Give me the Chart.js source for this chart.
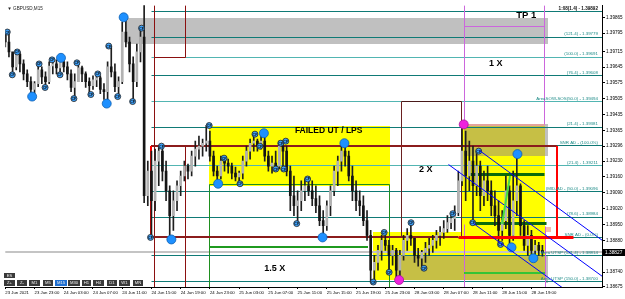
<!DOCTYPE html>
<html>
<head>
<meta charset="utf-8">
<title>GBPUSD,M15</title>
<script src="https://cdn.jsdelivr.net/npm/chart.js@4.4.1/dist/chart.umd.min.js"></script>
<style>
  html, body { margin: 0; padding: 0; background: #fff; }
</style>
</head>
<body>
<canvas id="myChart" width="625" height="299"></canvas>
<script>
// time axis (bar index of each label, 30 min bars)
const timeTicks = [0, 8, 16, 24, 32, 40, 48, 56, 64, 72, 80, 88, 96, 104, 112, 120, 128, 136, 144];
const timeLabels = ["23 Jun 2021", "23 Jun 23:00", "24 Jun 03:00", "24 Jun 07:00", "24 Jun 11:00", "24 Jun 15:00",
  "24 Jun 19:00", "24 Jun 23:00", "25 Jun 03:00", "25 Jun 07:00", "25 Jun 11:00", "25 Jun 15:00", "25 Jun 19:00",
  "25 Jun 23:00", "28 Jun 03:00", "28 Jun 07:00", "28 Jun 11:00", "28 Jun 15:00", "28 Jun 19:00"];

const priceTicks = [1.39865, 1.39795, 1.39715, 1.39645, 1.39575, 1.39505, 1.39435, 1.39365, 1.39296,
  1.39230, 1.39160, 1.39090, 1.39020, 1.38950, 1.38880, 1.38740, 1.38675];

const firstOpen = 1.39790;
const highs = [
  1.39808, 1.39800, 1.39703, 1.39721, 1.39712, 1.39677, 1.39633, 1.39602, 1.39581, 1.39659,
  1.39646, 1.39624, 1.39668, 1.39677, 1.39677, 1.39690, 1.39686, 1.39668, 1.39633, 1.39615,
  1.39664, 1.39650, 1.39624, 1.39598, 1.39606, 1.39620, 1.39606, 1.39572, 1.39668, 1.39738,
  1.39659, 1.39602, 1.39843, 1.39865, 1.39778, 1.39690, 1.39747, 1.39817, 1.39918, 1.39230,
  1.39274, 1.39283, 1.39296, 1.39292, 1.39230, 1.39121, 1.39099, 1.39143, 1.39186, 1.39230,
  1.39217, 1.39274, 1.39318, 1.39340, 1.39327, 1.39387, 1.39362, 1.39274, 1.39208, 1.39252,
  1.39243, 1.39239, 1.39221, 1.39204, 1.39186, 1.39252, 1.39296, 1.39327, 1.39349, 1.39327,
  1.39353, 1.39340, 1.39274, 1.39252, 1.39274, 1.39318, 1.39318, 1.39296, 1.39208, 1.39164,
  1.39099, 1.39143, 1.39151, 1.39151, 1.39143, 1.39121, 1.39077, 1.39011, 1.39055, 1.39121,
  1.39208, 1.39252, 1.39296, 1.39309, 1.39274, 1.39208, 1.39143, 1.39099, 1.39077, 1.39011,
  1.38924, 1.38814, 1.38858, 1.38902, 1.38915, 1.38880, 1.38858, 1.38845, 1.38836, 1.38902,
  1.38932, 1.38958, 1.38889, 1.38845, 1.38836, 1.38871, 1.38889, 1.38902, 1.38924, 1.38941,
  1.38967, 1.38989, 1.38998, 1.39033, 1.39186, 1.39392, 1.39362, 1.39318, 1.39296, 1.39274,
  1.39230, 1.39186, 1.39208, 1.39143, 1.39099, 1.39055, 1.39011, 1.39164, 1.39121, 1.39186,
  1.39261, 1.39130, 1.38967, 1.38945, 1.38924, 1.38880, 1.38871, 1.38858
];
const lows = [
  1.39734, 1.39690, 1.39611, 1.39633, 1.39624, 1.39589, 1.39559, 1.39528, 1.39515, 1.39559,
  1.39572, 1.39555, 1.39572, 1.39615, 1.39615, 1.39611, 1.39624, 1.39589, 1.39537, 1.39506,
  1.39581, 1.39581, 1.39555, 1.39524, 1.39546, 1.39559, 1.39528, 1.39502, 1.39484, 1.39602,
  1.39537, 1.39515, 1.39572, 1.39734, 1.39624, 1.39493, 1.39559, 1.39668, 1.39046, 1.39033,
  1.38893, 1.39011, 1.39121, 1.39143, 1.39055, 1.38885, 1.38924, 1.39011, 1.39077, 1.39143,
  1.39151, 1.39164, 1.39208, 1.39239, 1.39252, 1.39274, 1.39230, 1.39164, 1.39121, 1.39151,
  1.39186, 1.39177, 1.39151, 1.39143, 1.39125, 1.39151, 1.39208, 1.39239, 1.39274, 1.39274,
  1.39283, 1.39230, 1.39186, 1.39177, 1.39186, 1.39195, 1.39195, 1.39164, 1.39011, 1.38989,
  1.38954, 1.39011, 1.39055, 1.39077, 1.39033, 1.39002, 1.38945, 1.38893, 1.38924, 1.38989,
  1.39077, 1.39121, 1.39186, 1.39208, 1.39143, 1.39055, 1.39011, 1.38989, 1.38945, 1.38880,
  1.38696, 1.38705, 1.38748, 1.38792, 1.38836, 1.38739, 1.38770, 1.38705, 1.38701, 1.38792,
  1.38836, 1.38858, 1.38783, 1.38766, 1.38757, 1.38783, 1.38814, 1.38827, 1.38845, 1.38858,
  1.38889, 1.38915, 1.38932, 1.38924, 1.38989, 1.39121, 1.39055, 1.39099, 1.38958, 1.39077,
  1.39011, 1.39033, 1.39055, 1.38989, 1.38945, 1.38862, 1.38880, 1.38932, 1.38849, 1.38880,
  1.38989, 1.38902, 1.38836, 1.38814, 1.38801, 1.38814, 1.38814, 1.38810
];
const closes = [
  1.39756, 1.39712, 1.39646, 1.39703, 1.39659, 1.39615, 1.39581, 1.39546, 1.39572, 1.39633,
  1.39602, 1.39581, 1.39650, 1.39659, 1.39642, 1.39668, 1.39646, 1.39615, 1.39555, 1.39581,
  1.39642, 1.39615, 1.39581, 1.39563, 1.39589, 1.39598, 1.39546, 1.39537, 1.39646, 1.39624,
  1.39559, 1.39581, 1.39800, 1.39756, 1.39659, 1.39581, 1.39712, 1.39778, 1.39077, 1.39186,
  1.39055, 1.39230, 1.39274, 1.39186, 1.39099, 1.38989, 1.39055, 1.39121, 1.39164, 1.39208,
  1.39186, 1.39252, 1.39283, 1.39296, 1.39309, 1.39318, 1.39252, 1.39186, 1.39164, 1.39230,
  1.39221, 1.39208, 1.39177, 1.39160, 1.39177, 1.39230, 1.39274, 1.39309, 1.39318, 1.39296,
  1.39318, 1.39252, 1.39208, 1.39221, 1.39208, 1.39296, 1.39274, 1.39186, 1.39077, 1.39033,
  1.39055, 1.39099, 1.39121, 1.39099, 1.39064, 1.39033, 1.38967, 1.38945, 1.39033, 1.39099,
  1.39186, 1.39230, 1.39274, 1.39252, 1.39164, 1.39099, 1.39055, 1.39033, 1.38967, 1.38902,
  1.38748, 1.38783, 1.38836, 1.38880, 1.38858, 1.38814, 1.38836, 1.38748, 1.38814, 1.38880,
  1.38902, 1.38889, 1.38814, 1.38801, 1.38827, 1.38845, 1.38858, 1.38880, 1.38902, 1.38915,
  1.38932, 1.38958, 1.38976, 1.39002, 1.39143, 1.39274, 1.39164, 1.39230, 1.39121, 1.39208,
  1.39077, 1.39143, 1.39099, 1.39033, 1.38989, 1.38924, 1.38967, 1.39099, 1.38902, 1.39055,
  1.39121, 1.38945, 1.38858, 1.38902, 1.38836, 1.38858, 1.38836, 1.38827
];
const bidPrice = 1.38827;

// swing markers (bar index, price)
const pivotX = [0.54, 1.91, 3.27, 9.25, 10.89, 12.79, 14.97, 19.6, 18.78, 23.41, 25.31, 28.31, 30.76, 34.84,
  37.29, 39.74, 42.73, 55.8, 59.88, 64.23, 68.32, 69.68, 75.39, 76.76, 74.03, 76.21, 79.75, 82.74, 100.71,
  103.7, 105.06, 111.05, 114.59, 122.48, 127.93, 129.56, 135.55];
const pivotY = [1.39800, 1.39611, 1.39712, 1.39659, 1.39555, 1.39677, 1.39611, 1.39664, 1.39506, 1.39524,
  1.39615, 1.39738, 1.39515, 1.39493, 1.39817, 1.38893, 1.39296, 1.39387, 1.39243, 1.39130, 1.39349,
  1.39296, 1.39309, 1.39318, 1.39195, 1.39195, 1.38954, 1.39151, 1.38696, 1.38915, 1.38739, 1.38958,
  1.38757, 1.38998, 1.38958, 1.39274, 1.38862];
const bigPivotX = [7.35, 15.24, 27.76, 32.39, 45.45, 58.25, 70.77, 86.83, 92.81, 138.54, 140.17, 144.53];
const bigPivotY = [1.39515, 1.39686, 1.39484, 1.39865, 1.38884, 1.39130, 1.39353, 1.38893, 1.39309, 1.38849, 1.39261, 1.38801];
const magentaX = [125.47, 107.78];
const magentaY = [1.39392, 1.38705];

// fibo levels
const fibPrices = [1.39892, 1.39779, 1.39691, 1.39608, 1.39494, 1.39381, 1.39300, 1.39211, 1.39096, 1.38984, 1.38894, 1.38814, 1.38700];
const fibLabels = ["1:08(1.4) - 1.39892", "(121.4) - 1.39779", "(100.0) - 1.39691", "(76.4) - 1.39608",
  "AreaSOW-SOS(50.0) - 1.39494", "(21.4) - 1.39381", "SNR AD - (100.0%)", "(21.4) - 1.39211",
  "(MID-AD - (50.0) - 1.39096", "(78.6) - 1.38984", "SNR AD - (0.0%)", "Area UTSP (121.4) - 1.38814",
  "Area UTSP (150.0) - 1.38700"];

// drawn objects: [x1, x2, top price, bottom price, fill]
const boxes = [
  [32.66, 148.61, 1.39861, 1.39747, "#c0c0c0"],
  [55.8, 105.33, 1.39387, 1.39121, "#ffff00"],
  [124.9, 147.8, 1.39392, 1.38827, "#ffff00"],
  [147.8, 148.61, 1.39392, 1.39252, "#c0c0c0"],
  [125.47, 147.8, 1.39392, 1.39252, "#c6bf45"],
  [125.47, 147.8, 1.39392, 1.39383, "#e3a49c"],
  [100.71, 147.8, 1.38915, 1.38705, "#ffff00"],
  [107.24, 147.8, 1.38814, 1.38705, "#c6bf45"],
  [147.8, 148.61, 1.38814, 1.38690, "#c0c0c0"],
  [147.8, 149.4, 1.38941, 1.38915, "#f6bcae"]
];
// [x1, p1, x2, p2, colour, width]
const underLines = [
  [0, bidPrice, 163.31, bidPrice, "#c4c4c4", 2],
  [40.83, 1.39918, 40.83, 1.38674, "#8b1010", 1],
  [49.27, 1.39918, 49.27, 1.39690, "#8b1010", 1],
  [49.27, 1.39296, 49.27, 1.38674, "#8b1010", 1],
  [40.83, 1.39690, 49.27, 1.39690, "#8b1010", 1],
  [55.8, 1.39130, 105.06, 1.39130, "#1f8f1f", 1],
  [55.8, 1.39130, 55.8, 1.38674, "#1f8f1f", 1],
  [105.06, 1.39130, 105.06, 1.38674, "#1f8f1f", 1],
  [55.8, 1.38849, 99.35, 1.38849, "#1f9a1f", 2],
  [108.33, 1.39497, 124.65, 1.39497, "#4a1a1a", 1],
  [108.33, 1.39497, 108.33, 1.38893, "#6a2020", 1],
  [124.65, 1.39497, 124.65, 1.38893, "#6a2020", 1],
  [125.47, 1.39918, 125.47, 1.39392, "#cc66dd", 1],
  [147.53, 1.39918, 147.53, 1.39392, "#cc66dd", 1],
  [125.47, 1.39825, 147.53, 1.39825, "#cc66dd", 1],
  [125.47, 1.38954, 125.47, 1.38674, "#cc66dd", 1],
  [147.8, 1.38945, 147.8, 1.38674, "#cc66dd", 1],
  [127.1, 1.39173, 147.3, 1.39173, "#0b6b0b", 3],
  [127.4, 1.38958, 148.1, 1.38958, "#0b6b0b", 3],
  [125.47, 1.38735, 147.8, 1.38735, "#35c435", 2],
  [39.74, 1.39296, 151.06, 1.39296, "#8b1c1c", 2],
  [39.74, 1.38893, 123.84, 1.38893, "#8b1c1c", 2],
  [39.74, 1.39296, 39.74, 1.38893, "#ff0000", 2],
  [151.06, 1.39296, 151.06, 1.38893, "#ff0000", 2]
];
const overLines = [
  [123.84, 1.38893, 155.42, 1.38893, "#ff0000", 3],
  [129.56, 1.39278, 163.31, 1.38882, "#0000ff", 1],
  [121.12, 1.39217, 163.31, 1.38722, "#0000ff", 1],
  [127.93, 1.38958, 152.69, 1.38670, "#0000ff", 1],
  [138.0, 1.39164, 135.82, 1.38954, "#44dd44", 2]
];
// [text, x, price, size]
const notes = [
  ["FAILED UT / LPS", 88.5, 1.39366, 8.5],
  ["1.5 X", 73.76, 1.38757, 9],
  ["2 X", 115.1, 1.39195, 9],
  ["TP 1", 142.6, 1.39874, 9.5],
  ["1 X", 134.2, 1.39659, 9]
];

let opens = closes.map((c, i) => (i === 0 ? firstOpen : closes[i - 1]));

const snap = (v, w) => Math.round(v) + (w % 2 ? 0.5 : 0);

function drawLines(ctx, x, y, list) {
  list.forEach((l) => {
    ctx.strokeStyle = l[4];
    ctx.lineWidth = l[5];
    ctx.beginPath();
    ctx.moveTo(snap(x.getPixelForValue(l[0]), l[5]), snap(y.getPixelForValue(l[1]), l[5]));
    ctx.lineTo(snap(x.getPixelForValue(l[2]), l[5]), snap(y.getPixelForValue(l[3]), l[5]));
    ctx.stroke();
  });
}

const overlay = {
  id: "overlay",
  beforeDatasetsDraw(chart) {
    const { ctx, chartArea: a, scales: { x, y } } = chart;
    ctx.save();
    ctx.beginPath();
    ctx.rect(a.left, a.top, a.right - a.left, a.bottom - a.top);
    ctx.clip();
    boxes.forEach((b) => {
      const l = Math.round(x.getPixelForValue(b[0]));
      const r = Math.round(x.getPixelForValue(b[1]));
      const t = Math.round(y.getPixelForValue(b[2]));
      const bt = Math.round(y.getPixelForValue(b[3]));
      ctx.fillStyle = b[4];
      ctx.fillRect(l, t, r - l, bt - t);
    });
    fibPrices.forEach((p, i) => {
      const light = i === 2 || i === 4 || i === 7;
      drawLines(ctx, x, y, [[39.74, p, 163.31, p, light ? "#52b5b2" : "#0f7a76", 1]]);
    });
    drawLines(ctx, x, y, underLines);
    ctx.restore();
  },
  afterDatasetsDraw(chart) {
    const { ctx, chartArea: a, scales: { x, y } } = chart;
    ctx.save();
    ctx.beginPath();
    ctx.rect(a.left, a.top, a.right - a.left, a.bottom - a.top);
    ctx.clip();

    // little CF tags on the swing markers
    ctx.fillStyle = "#111";
    ctx.font = "bold 3.6px 'Liberation Sans'";
    ctx.textAlign = "center";
    ctx.textBaseline = "middle";
    pivotX.forEach((v, i) => {
      ctx.fillText("CF", x.getPixelForValue(v), y.getPixelForValue(pivotY[i]) + 0.5);
    });

    drawLines(ctx, x, y, overLines);

    ctx.textAlign = "right";
    ctx.textBaseline = "bottom";
    fibLabels.forEach((t, i) => {
      ctx.font = i === 0 ? "bold 4.6px 'Liberation Sans'" : "4.4px 'Liberation Sans'";
      ctx.fillStyle = i === 0 ? "#111" : "#1b8a86";
      ctx.fillText(t, x.getPixelForValue(162.2), y.getPixelForValue(fibPrices[i]) - 0.5);
    });

    ctx.textAlign = "center";
    ctx.textBaseline = "middle";
    ctx.fillStyle = "#000";
    notes.forEach((n) => {
      ctx.font = "bold " + n[3] + "px 'Liberation Sans'";
      ctx.fillText(n[0], x.getPixelForValue(n[1]), y.getPixelForValue(n[2]));
    });
    ctx.restore();
  },
  afterDraw(chart) {
    const { ctx, chartArea: a, scales: { y } } = chart;
    ctx.save();
    // bid price box
    const by = Math.round(y.getPixelForValue(bidPrice));
    ctx.fillStyle = "#000";
    ctx.fillRect(a.right + 1, by - 3, 22, 7);
    ctx.fillStyle = "#fff";
    ctx.font = "4.8px 'Liberation Sans'";
    ctx.textAlign = "left";
    ctx.textBaseline = "middle";
    ctx.fillText(bidPrice.toFixed(5), a.right + 3, by + 0.5);

    // symbol caption
    ctx.fillStyle = "#222";
    ctx.font = "4.6px 'Liberation Sans'";
    ctx.fillText("\u25BC GBPUSD,M15", a.left + 2, a.top + 3);

    // period buttons
    const names = ["Z+", "Z-", "M1", "M5", "M15", "M30", "H1", "H4", "D1", "W1", "MN"];
    const lefts = [4, 17, 29, 43, 55, 68, 82, 93, 107, 119, 133];
    const widths = [11, 10, 11, 10, 12, 12, 9, 11, 10, 11, 10];
    ctx.textAlign = "center";
    ctx.font = "4.2px 'Liberation Sans'";
    names.forEach((nm, i) => {
      ctx.fillStyle = nm === "M15" ? "#1f6fd1" : "#3a3a3a";
      ctx.fillRect(lefts[i], 280, widths[i], 6);
      ctx.fillStyle = "#eee";
      ctx.fillText(nm, lefts[i] + widths[i] / 2, 283.3);
    });
    ctx.fillStyle = "#3a3a3a";
    ctx.fillRect(4, 273, 11, 5);
    ctx.fillStyle = "#eee";
    ctx.fillText("ES", 9.5, 275.7);
    ctx.restore();
  }
};

let charts = document.getElementById("myChart").getContext("2d");

let candleChart = new Chart(charts, {
  type: "bar",
  data: {
    datasets: [
      {
        type: "scatter",
        data: magentaX.map((v, i) => ({ x: v, y: magentaY[i] })),
        pointRadius: 4.5,
        pointBackgroundColor: "#ee22dd",
        pointBorderColor: "#aa1199",
        pointBorderWidth: 0.8,
        order: 0,
      },
      {
        type: "scatter",
        data: bigPivotX.map((v, i) => ({ x: v, y: bigPivotY[i] })),
        pointRadius: 4.5,
        pointBackgroundColor: "#1e90ff",
        pointBorderColor: "#0d5fb3",
        pointBorderWidth: 0.8,
        order: 0,
      },
      {
        type: "scatter",
        data: pivotX.map((v, i) => ({ x: v, y: pivotY[i] })),
        pointRadius: 3,
        pointBackgroundColor: "#3a9cf5",
        pointBorderColor: "#222",
        pointBorderWidth: 0.8,
        order: 0,
      },
      {
        data: closes.map((c, i) => ({ x: i, y: [opens[i], c] })),
        backgroundColor: closes.map((c, i) => (c >= opens[i] ? "#b2b2b2" : "#141414")),
        barThickness: 2,
        grouped: false,
        order: 1,
      },
      {
        data: highs.map((h, i) => ({ x: i, y: [lows[i], h] })),
        backgroundColor: "#1e1e1e",
        barThickness: 1,
        grouped: false,
        order: 2,
      },
    ],
  },
  options: {
    responsive: false,
    animation: false,
    devicePixelRatio: 1,
    layout: { padding: { left: 2, top: 3, right: 0, bottom: 0 } },
    plugins: {
      legend: { display: false },
      tooltip: { enabled: false },
    },
    scales: {
      x: {
        type: "linear",
        min: 0,
        max: 163.31,
        offset: false,
        grid: { drawOnChartArea: false, tickLength: 2, color: "#000", offset: false },
        border: { display: true, color: "#000" },
        ticks: {
          autoSkip: false,
          maxRotation: 0,
          align: "start",
          padding: 1,
          color: "#000",
          font: { family: "Liberation Sans", size: 4.3 },
          callback: (v, i) => timeLabels[i],
        },
        afterBuildTicks: (s) => { s.ticks = timeTicks.map((v) => ({ value: v })); },
        afterFit: (s) => { s.height = 12; s.paddingLeft = 0; s.paddingRight = 0; },
      },
      y: {
        type: "linear",
        position: "right",
        min: 1.38674,
        max: 1.39918,
        grid: { drawOnChartArea: false, tickLength: 3, color: "#000" },
        border: { display: true, color: "#000" },
        ticks: {
          autoSkip: false,
          padding: 1,
          color: "#000",
          font: { family: "Liberation Sans", size: 4.6 },
          callback: (v) => v.toFixed(5),
        },
        afterBuildTicks: (s) => { s.ticks = priceTicks.map((v) => ({ value: v })); },
        afterFit: (s) => { s.width = 23; s.paddingTop = 0; s.paddingBottom = 0; },
      },
    },
  },
  plugins: [overlay],
});
</script>
</body>
</html>
